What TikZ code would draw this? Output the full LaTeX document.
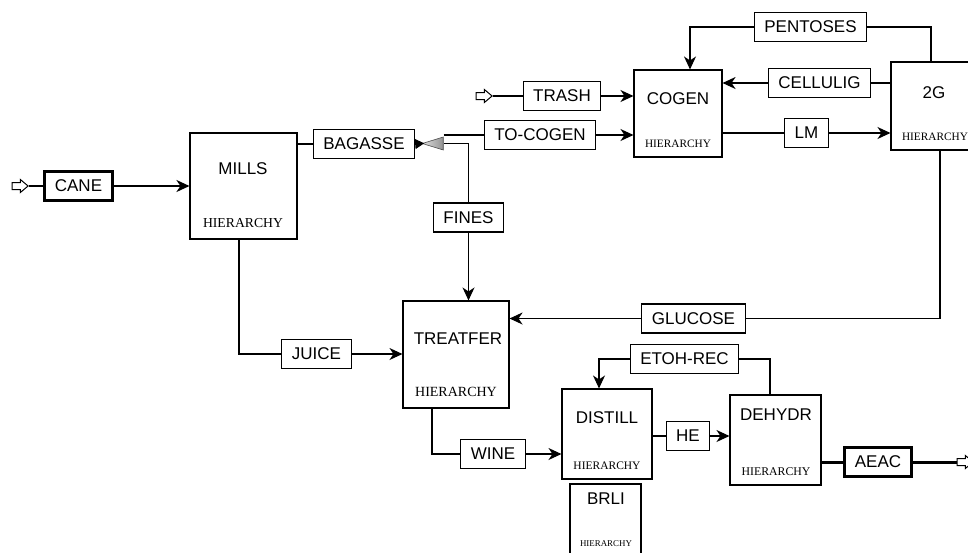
\documentclass[tikz,border=0pt]{standalone}
\usepackage{fontspec}
\setmainfont{Liberation Sans}
\newfontfamily\hierfont{Liberation Serif}
\usetikzlibrary{arrows.meta,shapes.geometric,shapes.arrows}

\begin{document}
\begin{tikzpicture}[x=1pt, y=-1pt, line width=1.1pt,
    >={Stealth[length=13pt,width=12pt,inset=4pt]},
    stream/.style={draw, fill=white, font=\fontsize{17}{17}\selectfont, inner xsep=10pt, inner ysep=0pt, minimum height=29pt},
    mainstream/.style={stream, line width=3pt},
    block/.style={draw, fill=white, inner sep=0pt},
    title/.style={font=\fontsize{17}{17}\selectfont, inner sep=0pt},
    hier/.style={font=\hierfont\fontsize{#1}{#1}\selectfont, inner sep=0pt},
    port/.style={single arrow, draw, fill=white, line width=1pt, minimum height=16pt, minimum width=0pt, text height=0pt, text depth=0pt, inner xsep=0pt, inner ysep=3pt, single arrow head extend=3pt, single arrow tip angle=80},
    splitter/.style={isosceles triangle, isosceles triangle stretches, draw=gray!60!black, line width=0.6pt, left color=gray!25, right color=gray!85, minimum width=13pt, minimum height=21pt, inner sep=0pt, rotate=180}]
    \useasboundingbox (0,0) rectangle (968,552);
    \clip (0,0) rectangle (968,552);

    % unit blocks
    \node at (243.5, 186) [block, minimum width=107, minimum height=106] (mills) {};
    \node at (243, 169) [title] (millsname) {MILLS};
    \node at (243, 223) [hier=13.7] (millshier) {HIERARCHY};

    \node at (678, 113.5) [block, minimum width=88, minimum height=87] (cogen) {};
    \node at (678, 99) [title] (cogenname) {COGEN};
    \node at (678, 144) [hier=11.3] (cogenhier) {HIERARCHY};

    \node at (935, 106) [block, minimum width=88, minimum height=88] (g2) {};
    \node at (934, 93) [title] (g2name) {2G};
    \node at (935, 137) [hier=11.3] (g2hier) {HIERARCHY};

    \node at (456, 354.5) [block, minimum width=106, minimum height=107] (treatfer) {};
    \node at (458, 339) [title] (treatfername) {TREATFER};
    \node at (456, 392) [hier=14] (treatferhier) {HIERARCHY};

    \node at (607, 434) [block, minimum width=90, minimum height=90] (distill) {};
    \node at (607, 418) [title] (distillname) {DISTILL};
    \node at (607, 466) [hier=11.5] (distillhier) {HIERARCHY};

    \node at (775.5, 440) [block, minimum width=91, minimum height=90] (dehydr) {};
    \node at (776, 415) [title] (dehydrname) {DEHYDR};
    \node at (776, 472) [hier=11.8] (dehydrhier) {HIERARCHY};

    \node at (605.5, 529) [block, minimum width=71, minimum height=90] (brli) {};
    \node at (606, 499) [title] (brliname) {BRLI};
    \node at (606, 544) [hier=8.9] (brlihier) {HIERARCHY};

    % streams
    \node at (18, 186) [port] (canein) {};
    \node at (78.5, 186) [mainstream] (cane) {CANE};
    \node at (364, 144) [stream] (bagasse) {BAGASSE};
    \node at (438.5, 143.5) [splitter] (bagsplit) {};
    \node at (540, 135) [stream] (tocogen) {TO-COGEN};
    \node at (468.5, 217.5) [stream] (fines) {FINES};
    \node at (482, 96) [port] (trashin) {};
    \node at (562, 96) [stream] (trash) {TRASH};
    \node at (810.5, 27) [stream] (pentoses) {PENTOSES};
    \node at (819.5, 83) [stream] (cellulig) {CELLULIG};
    \node at (806.5, 133) [stream] (lm) {LM};
    \node at (693.5, 318.5) [stream] (glucose) {GLUCOSE};
    \node at (316.5, 354) [stream] (juice) {JUICE};
    \node at (493, 454) [stream] (wine) {WINE};
    \node at (684.5, 359) [stream] (etohrec) {ETOH-REC};
    \node at (688, 436) [stream] (he) {HE};
    \node at (878, 462) [mainstream] (aeac) {AEAC};
    \node at (963, 462) [port] (aeacout) {};

    % connections
    \draw (canein.east) -- (cane.west);
    \draw[->, line width=2pt] (cane.east) -- (cane.east -| mills.west);
    \draw (mills.east |- bagasse) -- (bagasse.west);
    \draw[{Triangle[reversed,length=9pt,width=10pt]}-] (bagasse.east) -- (bagsplit.apex);
    \draw (bagsplit.west |- tocogen) -- (tocogen.west);
    \draw[->] (tocogen.east) -- (tocogen.east -| cogen.west);
    \draw (fines.north) |- (bagsplit.west);
    \draw[->] (fines.south) -- (fines.south |- treatfer.north);
    \draw (trashin.east) -- (trash.west);
    \draw[->] (trash.east) -- (trash.east -| cogen.west);
    \draw ([xshift=-4]g2.north) |- (pentoses.east);
    \draw[->] (pentoses.west) -| ([xshift=12]cogen.north);
    \draw (g2.west |- cellulig) -- (cellulig.east);
    \draw[->] (cellulig.west) -- (cellulig.west -| cogen.east);
    \draw (cogen.east |- lm) -- (lm.west);
    \draw[->] (lm.east) -- (lm.east -| g2.west);
    \draw ([xshift=5]g2.south) |- (glucose.east);
    \draw[->] (glucose.west) -- (glucose.west -| treatfer.east);
    \draw ([xshift=-4.5]mills.south) |- (juice.west);
    \draw[->] (juice.east) -- (juice.east -| treatfer.west);
    \draw ([xshift=-24]treatfer.south) |- (wine.west);
    \draw[->] (wine.east) -- (wine.east -| distill.west);
    \draw (distill.east |- he) -- (he.west);
    \draw[->] (he.east) -- (he.east -| dehydr.west);
    \draw ([xshift=-5.5]dehydr.north) |- (etohrec.east);
    \draw[->] (etohrec.west) -| ([xshift=-8]distill.north);
    \draw[line width=3pt] (dehydr.east |- aeac) -- (aeac.west);
    \draw[line width=3pt] (aeac.east) -- (aeacout.west);

\end{tikzpicture}
\end{document}
